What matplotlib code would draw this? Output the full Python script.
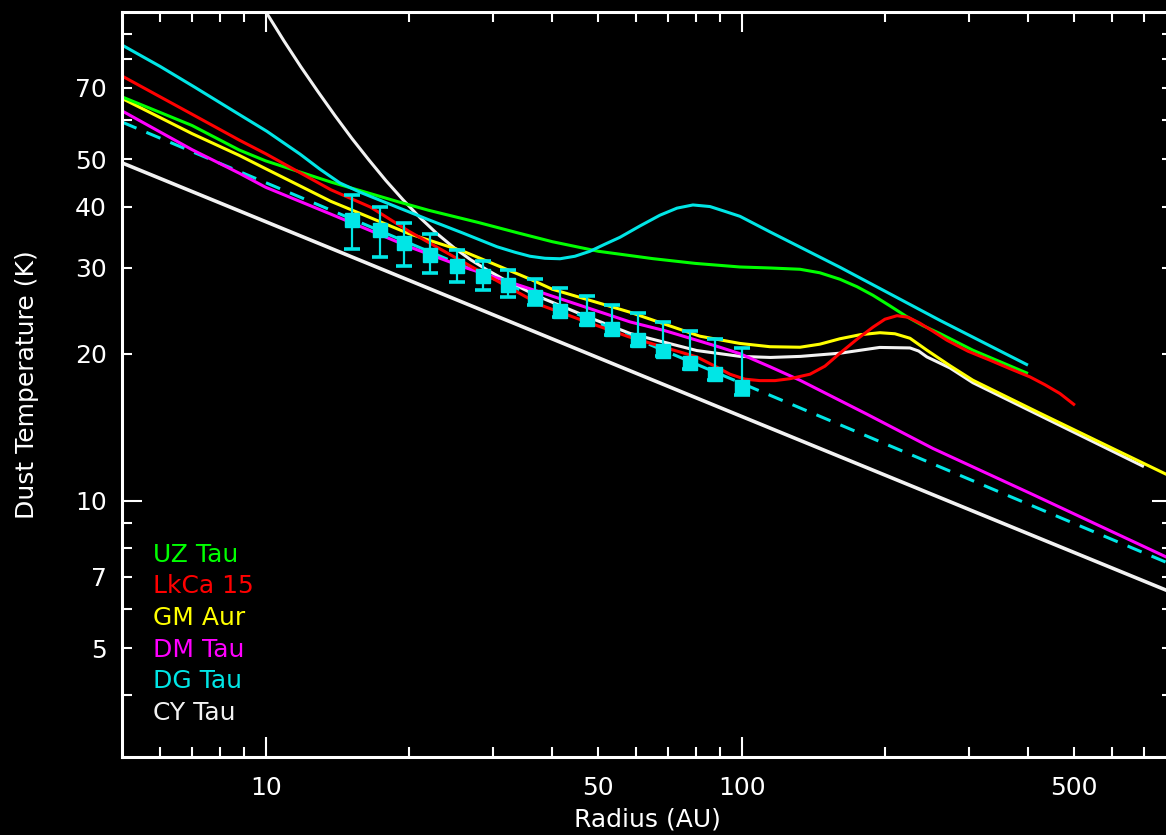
#!/usr/bin/env python3
"""
Dust temperature profiles of the Taurus discs, with the DG Tau
measurements and their power-law fit.
"""

import matplotlib
matplotlib.use("Agg")
import matplotlib.pyplot as plt

plt.rcParams['font.family'] = ['DejaVu Sans']

# Model curves: radius (AU) and dust temperature (K)
uz_r = [5, 7, 8.8, 10, 13.7, 19, 22, 28, 34, 40, 50, 65, 80, 99.2, 114.7,
        132.6, 146, 160.9, 174.7, 188.7, 204.7, 222.5, 240.5, 261, 306.1, 399.5]
uz_t = [67.0, 58.6, 52.2, 49.6, 44.9, 40.9, 39.3, 37.1, 35.3, 33.9, 32.4, 31.3,
        30.6, 30.09, 29.95, 29.77, 29.28, 28.4, 27.42, 26.34, 25.07, 23.8, 22.82,
        21.99, 20.33, 18.22]

lk_r = [5, 7, 8.8, 10, 13.7, 16.6, 20, 26, 30.6, 38, 48, 58, 70, 80.5, 87.9,
        94.5, 101.6, 109.2, 117.5, 126.4, 139.2, 149.6, 160.9, 174.7, 188.7,
        200, 212, 223.6, 236.9, 252.3, 270, 298.8, 332.4, 366.1, 403.4, 433.7,
        466.4, 501.4]
lk_t = [73.9, 61.8, 54.7, 51.3, 43.3, 39.9, 35.6, 30.8, 28.2, 25.1, 23.1, 21.65,
        20.5, 19.7, 18.86, 18.16, 17.74, 17.62, 17.62, 17.78, 18.16, 18.86,
        20.05, 21.41, 22.66, 23.53, 23.92, 23.75, 23.09, 22.23, 21.31, 20.24,
        19.4, 18.64, 17.93, 17.28, 16.58, 15.69]

gm_r = [5, 7, 8.8, 10, 13.7, 20, 26, 36, 40, 58, 81.7, 99.2, 114.7, 132.6, 146,
        160.9, 177.3, 195.2, 209.9, 225.8, 245.1, 274, 306.1, 423.4, 600, 800]
gm_t = [66.5, 56.4, 50.9, 47.8, 41.0, 35.2, 32.4, 28.4, 27.1, 24.35, 21.72,
        20.99, 20.67, 20.62, 20.92, 21.46, 21.87, 22.08, 21.97, 21.51, 20.33,
        18.9, 17.65, 15.11, 12.82, 11.2]

dm_r = [5, 7, 8.8, 10, 13.7, 20, 26, 37, 58.3, 69, 80.5, 90, 99.2, 114.7,
        132.6, 183.4, 252.3, 409.3, 550, 800]
dm_t = [62.7, 52.3, 46.8, 43.8, 38.6, 33.1, 30.1, 26.9, 23.23, 22.29, 21.31,
        20.62, 20.0, 18.81, 17.65, 15.04, 12.8, 10.3, 9.0, 7.59]

dg_r = [5.0, 6.0, 7.1, 8.41, 10.06, 11.81, 13.0, 14.32, 15.78, 17.39, 18.87,
        22.13, 25.97, 30.61, 33.41, 35.92, 38.62, 41.53, 44.64, 48.0, 51.61,
        55.49, 61.13, 67.34, 73.13, 79.0, 85.79, 92.24, 99.2, 114.7, 160.9,
        261, 399.5]
dg_t = [85.5, 77.4, 70.15, 63.4, 57.0, 51.2, 47.7, 44.7, 42.8, 41.2, 39.9,
        37.5, 35.3, 33.1, 32.25, 31.65, 31.35, 31.28, 31.65, 32.4, 33.5, 34.6,
        36.5, 38.4, 39.7, 40.3, 40.0, 39.1, 38.2, 35.5, 30.05, 23.4, 18.95]

cy_r = [9.7, 10.06, 10.93, 11.86, 12.88, 13.98, 15.18, 16.48, 17.89, 19.43,
        21.1, 22.91, 24.87, 27.0, 29.31, 31.83, 37.7, 46.9, 58.3, 80.5, 99.2,
        115, 133, 161, 195, 225.8, 235.5, 245, 274, 306, 423, 600, 700]
cy_t = [105, 99.3, 87.2, 77.2, 68.7, 61.4, 55.1, 49.8, 45.2, 41.3, 37.96, 35.2,
        32.95, 31.1, 29.6, 28.3, 26.1, 23.9, 22.0, 20.3, 19.75, 19.65, 19.75,
        20.05, 20.6, 20.55, 20.25, 19.7, 18.7, 17.45, 14.95, 12.65, 11.75]

# Power-law fit to the DG Tau points (dashed) and the lower reference line
fit_r = [5, 800]
fit_t = [59.5, 7.41]
ref_r = [5, 800]
ref_t = [49.1, 6.5]

# DG Tau measurements with their error-bar ends
obs_r = [15.2, 17.4, 19.5, 22.1, 25.2, 28.6, 32.3, 36.8, 41.5, 47.3, 53.3,
         60.7, 68.4, 77.9, 87.9, 100]
obs_t = [37.5, 35.8, 33.7, 31.8, 30.3, 28.9, 27.6, 26.1, 24.5, 23.6, 22.5,
         21.3, 20.3, 19.1, 18.2, 17.1]
obs_hi = [42.2, 39.9, 37.1, 35.2, 32.6, 30.9, 29.6, 28.5, 27.3, 26.3, 25.1,
          24.2, 23.2, 22.3, 21.4, 20.5]
obs_lo = [32.7, 31.5, 30.3, 29.2, 28.0, 27.0, 26.1, 25.1, 23.8, 22.9, 21.8,
          20.7, 19.8, 18.6, 17.7, 16.45]

names = ['UZ Tau', 'LkCa 15', 'GM Aur', 'DM Tau', 'DG Tau', 'CY Tau']

# Axis ticks
x_major = [10, 100]
x_major_labels = ['10', '100']
x_minor = [6, 7, 8, 9, 20, 30, 40, 50, 60, 70, 80, 90, 200, 300, 400, 500, 600, 700]
x_minor_labels = ['', '', '', '', '', '', '', '50', '', '', '', '', '', '', '', '500', '', '']
y_major = [10]
y_major_labels = ['10']
y_minor = [4, 5, 6, 7, 8, 9, 20, 30, 40, 50, 60, 70, 80, 90]
y_minor_labels = ['', '5', '', '7', '', '', '20', '30', '40', '50', '', '70', '', '']

GREEN = '#00ff00'
RED = '#ff0000'
YELLOW = '#ffff00'
MAGENTA = '#ff00ff'
CYAN = '#00e6e6'
WHITE = '#f2f2f2'


def main():
    W, H = 1166, 835
    fig = plt.figure(figsize=(W / 100, H / 100), dpi=100, facecolor='black')
    ax = fig.add_axes([122.4 / W, 1 - 756.5 / H, (1171.5 - 122.4) / W, (756.5 - 12) / H])
    ax.set_facecolor('black')
    ax.set_xscale('log')
    ax.set_yscale('log')

    lw = 2.2
    ax.plot(ref_r, ref_t, color=WHITE, lw=2.6, solid_capstyle='butt')
    ax.plot(cy_r, cy_t, color=WHITE, lw=lw, solid_capstyle='butt')
    ax.plot(fit_r, fit_t, color=CYAN, lw=lw, dashes=(5, 3.5))
    ax.plot(dm_r, dm_t, color=MAGENTA, lw=lw, solid_capstyle='butt')
    ax.plot(gm_r, gm_t, color=YELLOW, lw=lw, solid_capstyle='butt')
    ax.plot(uz_r, uz_t, color=GREEN, lw=lw, solid_capstyle='butt')
    ax.plot(lk_r, lk_t, color=RED, lw=lw, solid_capstyle='butt')
    ax.plot(dg_r, dg_t, color=CYAN, lw=lw, solid_capstyle='butt')

    # Measurements: filled squares with asymmetric error bars
    err_lo = [t - lo for t, lo in zip(obs_t, obs_lo)]
    err_hi = [hi - t for t, hi in zip(obs_t, obs_hi)]
    ax.errorbar(obs_r, obs_t, yerr=[err_lo, err_hi], fmt='s', ms=9.5,
                color=CYAN, mec=CYAN, ecolor=CYAN, elinewidth=1.6,
                capsize=6, capthick=2.6, zorder=5)

    ax.set_xlim(5, 800)
    ax.set_ylim(3, 100)

    ax.set_xticks(x_major, labels=x_major_labels)
    ax.set_xticks(x_minor, labels=x_minor_labels, minor=True)
    ax.set_yticks(y_major, labels=y_major_labels)
    ax.set_yticks(y_minor, labels=y_minor_labels, minor=True)

    ax.tick_params(which='both', direction='in', colors='white', top=True,
                   right=True, width=1.5, labelsize=18)
    ax.tick_params(which='major', length=14.5)
    ax.tick_params(which='minor', length=7.5)
    ax.tick_params(axis='x', which='both', pad=14)
    ax.tick_params(axis='y', which='both', pad=11)

    for spine in ax.spines.values():
        spine.set_color('white')
        spine.set_linewidth(2.2)

    # Axis titles
    fig.text(647 / W, 1 - 826.5 / H, 'Radius (AU)', color='white', fontsize=18,
             ha='center', va='baseline')
    fig.text(27 / W, 1 - 384.5 / H, 'Dust Temperature (K)', color='white',
             fontsize=18, rotation=90, ha='center', va='center')

    # Coloured source names instead of a legend box
    colors = [GREEN, RED, YELLOW, MAGENTA, CYAN, WHITE]
    baselines = [561.7, 593.3, 625, 656.7, 688.3, 720]
    for name, c, yb in zip(names, colors, baselines):
        fig.text(153 / W, 1 - yb / H, name, color=c, fontsize=18,
                 ha='left', va='baseline')

    fig.savefig('out.png', dpi=100, facecolor='black')
    plt.close(fig)


if __name__ == '__main__':
    main()
